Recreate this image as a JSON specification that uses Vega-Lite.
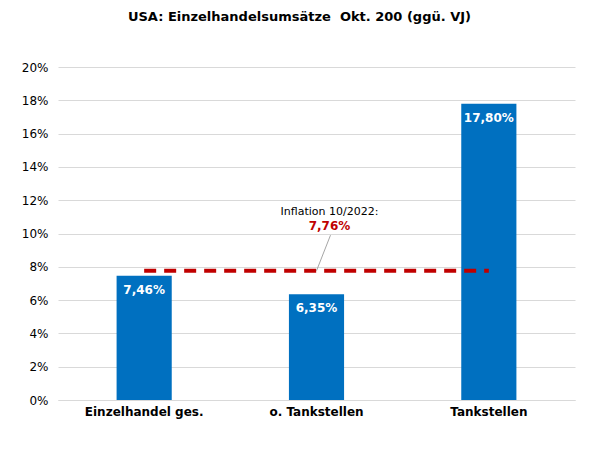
{
  "$schema": "https://vega.github.io/schema/vega-lite/v6.json",
  "width": 517,
  "height": 333,
  "autosize": "none",
  "padding": {"left": 58, "top": 67, "right": 20, "bottom": 50},
  "background": "white",
  "title": {
    "text": "USA: Einzelhandelsumsätze \u00a0Okt. 200 (ggü. VJ)",
    "font": "DejaVu Sans",
    "fontSize": 13,
    "fontWeight": "bold",
    "color": "#000000",
    "anchor": "middle",
    "frame": "group",
    "dx": -17,
    "offset": 37
  },
  "config": {
    "view": {"stroke": null},
    "font": "DejaVu Sans",
    "axis": {"labelOverlap": false},
    "axisY": {"labelOverlap": false}
  },
  "datasets": {
    "sales": [
      {"kategorie": "Einzelhandel ges.", "wert": 7.46},
      {"kategorie": "o. Tankstellen", "wert": 6.35},
      {"kategorie": "Tankstellen", "wert": 17.8}
    ],
    "inflation": [
      {"kategorie": "Einzelhandel ges.", "wert": 7.76},
      {"kategorie": "Tankstellen", "wert": 7.76}
    ],
    "note": [
      {"kategorie": "o. Tankstellen", "linie": 7.76, "oben": 9.9, "text1": 11.3, "text2": 10.45, "titel": "Inflation 10/2022:", "wert": "7,76%"}
    ]
  },
  "encoding": {
    "x": {
      "field": "kategorie",
      "type": "nominal",
      "sort": ["Einzelhandel ges.", "o. Tankstellen", "Tankstellen"],
      "scale": {"paddingInner": 0.68, "paddingOuter": 0.34},
      "axis": {
        "title": null,
        "labelAngle": 0,
        "labelFontSize": 12,
        "labelFontWeight": "bold",
        "labelColor": "#000000",
        "labelPadding": 6,
        "ticks": false,
        "domainColor": "#d9d9d9",
        "domainWidth": 1
      }
    },
    "y": {
      "type": "quantitative",
      "scale": {"domain": [0, 20], "nice": false},
      "axis": {
        "title": null,
        "values": [0, 2, 4, 6, 8, 10, 12, 14, 16, 18, 20],
        "labelExpr": "datum.value + '%'",
        "labelOverlap": false,
        "labelFontSize": 12,
        "labelColor": "#000000",
        "labelPadding": 10,
        "ticks": false,
        "domain": false,
        "gridColor": "#d9d9d9",
        "gridWidth": 1
      }
    }
  },
  "layer": [
    {
      "data": {"name": "sales"},
      "mark": {"type": "bar", "color": "#0070c0"},
      "encoding": {
        "y": {"field": "wert"}
      }
    },
    {
      "data": {"name": "sales"},
      "transform": [
        {"calculate": "replace(format(datum.wert, '.2f'), '.', ',') + '%'", "as": "label"}
      ],
      "mark": {"type": "text", "color": "white", "fontSize": 12, "fontWeight": "bold", "baseline": "middle", "dy": 14},
      "encoding": {
        "y": {"field": "wert"},
        "text": {"field": "label"}
      }
    },
    {
      "data": {"name": "inflation"},
      "mark": {"type": "line", "color": "#c00000", "strokeWidth": 4, "strokeDash": [12, 8]},
      "encoding": {
        "y": {"field": "wert"}
      }
    },
    {
      "data": {"name": "note"},
      "mark": {"type": "rule", "color": "#a6a6a6", "strokeWidth": 1, "x2Offset": 14},
      "encoding": {
        "x2": {"field": "kategorie"},
        "y": {"field": "linie"},
        "y2": {"field": "oben"}
      }
    },
    {
      "data": {"name": "note"},
      "mark": {"type": "text", "fontSize": 11, "color": "#000000", "dx": 13, "baseline": "middle"},
      "encoding": {
        "y": {"field": "text1"},
        "text": {"field": "titel"}
      }
    },
    {
      "data": {"name": "note"},
      "mark": {"type": "text", "fontSize": 12, "fontWeight": "bold", "color": "#c00000", "dx": 13, "baseline": "middle"},
      "encoding": {
        "y": {"field": "text2"},
        "text": {"field": "wert"}
      }
    }
  ]
}
